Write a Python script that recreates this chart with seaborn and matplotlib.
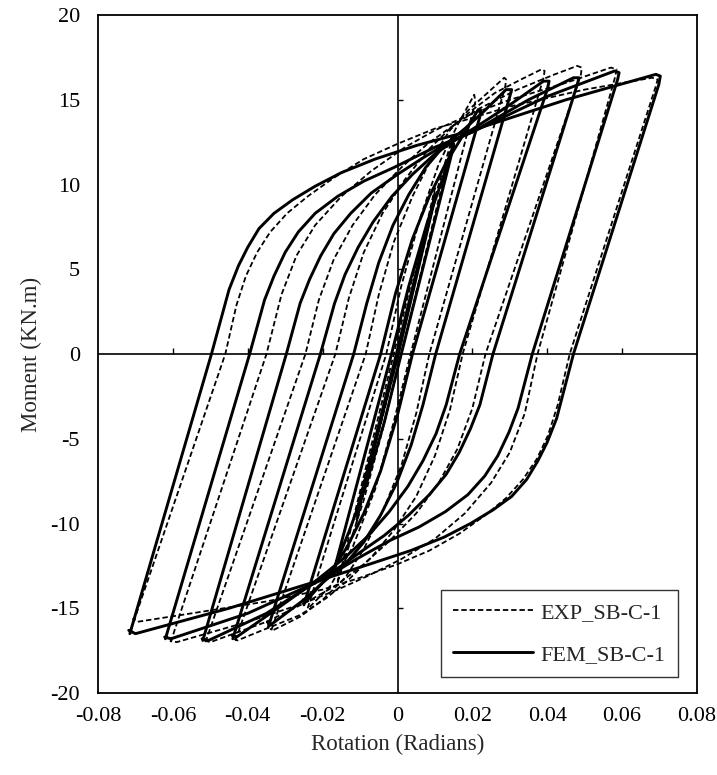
import numpy as np
import pandas as pd
import matplotlib
matplotlib.use("Agg")
import matplotlib.pyplot as plt
from matplotlib.lines import Line2D
import seaborn as sns

# ---------------- data ----------------
x_ticks = [-0.08, -0.06, -0.04, -0.02, 0, 0.02, 0.04, 0.06, 0.08]
x_tick_labels = ["-0.08", "-0.06", "-0.04", "-0.02", "0", "0.02", "0.04", "0.06", "0.08"]
y_ticks = [-20, -15, -10, -5, 0, 5, 10, 15, 20]
y_tick_labels = ["-20", "-15", "-10", "-5", "0", "5", "10", "15", "20"]

series_names = ["EXP_SB-C-1", "FEM_SB-C-1"]

# FEM (solid) hysteresis loops: rotation (rad) and moment (kN.m), one list per cycle
fem_rotation = [
    [-0.0715, -0.0497, -0.0450, -0.0425, -0.0400, -0.0370, -0.0330, -0.0280, -0.0220, -0.0150, -0.0060, 0.0050, 0.0200, 0.0450, 0.0690, 0.0702,
     0.0698, 0.0470, 0.0425, 0.0400, 0.0375, 0.0345, 0.0305, 0.0255, 0.0195, 0.0125, 0.0035, -0.0075, -0.0200, -0.0450, -0.0700, -0.0718],
    [-0.0620, -0.0395, -0.0355, -0.0330, -0.0300, -0.0265, -0.0220, -0.0160, -0.0090, -0.0010, 0.0100, 0.0200, 0.0400, 0.0580, 0.0592,
     0.0588, 0.0360, 0.0322, 0.0298, 0.0268, 0.0233, 0.0188, 0.0128, 0.0058, -0.0020, -0.0110, -0.0200, -0.0400, -0.0605, -0.0622],
    [-0.0520, -0.0297, -0.0260, -0.0235, -0.0205, -0.0170, -0.0125, -0.0070, 0.0000, 0.0070, 0.0130, 0.0200, 0.0350, 0.0470, 0.0485,
     0.0480, 0.0255, 0.0220, 0.0195, 0.0165, 0.0130, 0.0085, 0.0030, -0.0035, -0.0100, -0.0150, -0.0200, -0.0350, -0.0505, -0.0522],
    [-0.0440, -0.0206, -0.0168, -0.0140, -0.0105, -0.0065, -0.0015, 0.0040, 0.0100, 0.0160, 0.0210, 0.0300, 0.0390, 0.0405,
     0.0400, 0.0166, 0.0130, 0.0103, 0.0068, 0.0028, -0.0022, -0.0077, -0.0135, -0.0185, -0.0225, -0.0320, -0.0430, -0.0442],
    [-0.0345, -0.0117, -0.0082, -0.0050, -0.0012, 0.0030, 0.0075, 0.0125, 0.0180, 0.0230, 0.0290, 0.0305,
     0.0300, 0.0102, 0.0068, 0.0036, -0.0002, -0.0045, -0.0090, -0.0140, -0.0195, -0.0250, -0.0340, -0.0348],
    [-0.0250, -0.0045, -0.0005, 0.0040, 0.0085, 0.0130, 0.0175, 0.0215, 0.0222,
     0.0220, 0.0040, 0.0000, -0.0045, -0.0090, -0.0135, -0.0185, -0.0245, -0.0252],
    [-0.0170, -0.0016, 0.0030, 0.0080, 0.0120, 0.0150,
     0.0148, 0.0010, -0.0035, -0.0085, -0.0130, -0.0170],
    [-0.0110, -0.0003, 0.0100, 0.0098, 0.0002, -0.0110],
]
fem_moment = [
    [-16.5, 0.0, 3.8, 5.2, 6.3, 7.4, 8.3, 9.1, 9.9, 10.7, 11.5, 12.3, 13.2, 15.0, 16.5, 16.4,
     15.9, 0.0, -3.8, -5.2, -6.3, -7.4, -8.4, -9.2, -10.0, -10.8, -11.6, -12.4, -13.3, -15.0, -16.5, -16.3],
    [-16.8, 0.0, 3.2, 4.6, 6.0, 7.2, 8.3, 9.3, 10.2, 11.0, 12.2, 13.1, 15.2, 16.7, 16.6,
     16.2, 0.0, -3.2, -4.6, -6.0, -7.2, -8.3, -9.3, -10.2, -11.0, -12.1, -13.3, -15.3, -16.8, -16.7],
    [-16.9, 0.0, 3.0, 4.4, 5.8, 7.1, 8.3, 9.5, 10.6, 11.6, 12.4, 13.1, 15.0, 16.3, 16.3,
     15.9, 0.0, -3.0, -4.4, -5.8, -7.1, -8.3, -9.5, -10.7, -11.7, -12.5, -13.2, -15.3, -16.9, -16.8],
    [-16.8, 0.0, 3.0, 4.7, 6.3, 7.8, 9.3, 10.6, 11.8, 12.7, 13.4, 14.7, 16.1, 16.1,
     15.6, 0.0, -3.0, -4.7, -6.3, -7.8, -9.3, -10.7, -11.9, -12.8, -13.5, -15.0, -16.7, -16.6],
    [-16.1, 0.0, 3.0, 5.4, 7.6, 9.4, 11.0, 12.3, 13.3, 14.3, 15.6, 15.6,
     15.2, 0.0, -3.0, -5.4, -7.6, -9.5, -11.1, -12.4, -13.4, -14.5, -16.0, -15.8],
    [-14.8, 0.0, 3.6, 6.8, 9.3, 11.3, 12.9, 14.4, 14.4,
     14.0, 0.0, -3.6, -6.9, -9.4, -11.4, -13.1, -14.6, -14.5],
    [-12.8, 0.0, 4.0, 7.8, 10.3, 12.4,
     12.1, 0.0, -4.0, -7.8, -10.5, -12.7],
    [-9.5, 0.0, 9.3, 9.0, 0.0, -9.4],
]

# EXP (dashed) hysteresis loops
exp_rotation = [
    [-0.0705, -0.0460, -0.0430, -0.0405, -0.0375, -0.0340, -0.0295, -0.0240, -0.0170, -0.0090, 0.0000, 0.0100, 0.0180, 0.0300, 0.0500, 0.0680, 0.0695,
     0.0690, 0.0460, 0.0428, 0.0402, 0.0372, 0.0335, 0.0290, 0.0235, 0.0165, 0.0085, 0.0000, -0.0100, -0.0200, -0.0350, -0.0550, -0.0695, -0.0708],
    [-0.0606, -0.0350, -0.0310, -0.0270, -0.0220, -0.0150, -0.0070, 0.0020, 0.0100, 0.0180, 0.0300, 0.0450, 0.0570, 0.0585,
     0.0582, 0.0374, 0.0340, 0.0300, 0.0250, 0.0180, 0.0100, 0.0010, -0.0080, -0.0160, -0.0250, -0.0400, -0.0590, -0.0608],
    [-0.0513, -0.0246, -0.0210, -0.0170, -0.0120, -0.0060, 0.0010, 0.0080, 0.0150, 0.0220, 0.0320, 0.0420, 0.0480, 0.0492,
     0.0490, 0.0235, 0.0200, 0.0160, 0.0110, 0.0050, -0.0020, -0.0090, -0.0160, -0.0240, -0.0350, -0.0500, -0.0515],
    [-0.0433, -0.0166, -0.0130, -0.0090, -0.0040, 0.0020, 0.0080, 0.0140, 0.0200, 0.0260, 0.0330, 0.0385, 0.0393,
     0.0390, 0.0174, 0.0140, 0.0100, 0.0050, -0.0010, -0.0070, -0.0130, -0.0190, -0.0260, -0.0350, -0.0428, -0.0436],
    [-0.0337, -0.0085, -0.0050, -0.0010, 0.0040, 0.0090, 0.0140, 0.0190, 0.0240, 0.0285, 0.0290,
     0.0288, 0.0085, 0.0050, 0.0010, -0.0040, -0.0090, -0.0140, -0.0200, -0.0260, -0.0333, -0.0340],
    [-0.0240, -0.0030, 0.0010, 0.0060, 0.0110, 0.0160, 0.0205,
     0.0208, 0.0035, -0.0010, -0.0060, -0.0120, -0.0180, -0.0238],
    [-0.0160, -0.0010, 0.0040, 0.0090, 0.0150,
     0.0148, 0.0010, -0.0040, -0.0090, -0.0160],
    [-0.0110, 0.0000, 0.0100, 0.0098, 0.0003, -0.0110],
]
exp_moment = [
    [-15.8, 0.0, 2.9, 4.6, 6.0, 7.2, 8.3, 9.3, 10.4, 11.5, 12.4, 13.3, 13.8, 14.6, 15.6, 16.3, 16.2,
     15.8, 0.0, -3.0, -4.8, -6.2, -7.4, -8.5, -9.5, -10.6, -11.6, -12.4, -13.2, -13.9, -14.6, -15.3, -15.8, -15.6],
    [-17.0, 0.0, 3.5, 5.8, 7.6, 9.3, 10.8, 12.2, 13.2, 14.0, 15.0, 16.0, 16.9, 16.8,
     16.4, 0.0, -3.5, -5.8, -7.6, -9.4, -10.9, -12.1, -13.1, -13.9, -14.7, -15.8, -17.0, -16.9],
    [-17.0, 0.0, 3.2, 5.6, 7.6, 9.4, 11.0, 12.4, 13.5, 14.5, 15.6, 16.5, 17.0, 16.9,
     16.5, 0.0, -3.2, -5.6, -7.6, -9.4, -11.0, -12.4, -13.6, -14.6, -15.8, -17.0, -16.9],
    [-16.9, 0.0, 3.3, 6.0, 8.3, 10.3, 12.0, 13.3, 14.4, 15.4, 16.2, 16.8, 16.7,
     16.3, 0.0, -3.3, -6.0, -8.4, -10.4, -12.0, -13.3, -14.4, -15.4, -16.2, -16.9, -16.8],
    [-16.3, 0.0, 3.5, 6.6, 9.3, 11.5, 13.2, 14.4, 15.4, 16.3, 16.2,
     15.8, 0.0, -3.5, -6.6, -9.3, -11.5, -13.2, -14.5, -15.5, -16.3, -16.2],
    [-15.0, 0.0, 4.0, 8.0, 11.2, 13.5, 15.3,
     14.9, 0.0, -4.0, -8.0, -11.4, -13.7, -15.0],
    [-13.5, 0.0, 4.5, 8.5, 13.0,
     12.6, 0.0, -4.5, -8.6, -13.4],
    [-10.0, 0.0, 9.8, 9.4, 0.0, -9.8],
]

# ---------------- build tables ----------------
def to_frame(rot, mom):
    rows = []
    for k, (xs, ys) in enumerate(zip(rot, mom)):
        for i, (xv, yv) in enumerate(zip(xs, ys)):
            rows.append((k, i, xv, yv))
    return pd.DataFrame(rows, columns=["loop", "order", "rotation", "moment"])

df_exp = to_frame(exp_rotation, exp_moment)
df_fem = to_frame(fem_rotation, fem_moment)

# ---------------- plot ----------------
sns.set_style("white")
plt.rcParams["font.family"] = ["Liberation Serif", "DejaVu Serif"]

fig = plt.figure(figsize=(7.17, 7.75), dpi=100)
ax = fig.add_axes([0.1367, 0.1058, 0.8354, 0.8748])

dash_style = (0, (3.0, 1.6))
sns.lineplot(data=df_exp, x="rotation", y="moment", units="loop", estimator=None,
             sort=False, color="black", linewidth=1.3, linestyle=dash_style, ax=ax)
sns.lineplot(data=df_fem, x="rotation", y="moment", units="loop", estimator=None,
             sort=False, color="black", linewidth=2.1, ax=ax)

ax.set_xlim(-0.08, 0.08)
ax.set_ylim(-20, 20)
ax.set_xticks(x_ticks)
ax.set_xticklabels(x_tick_labels)
ax.set_yticks(y_ticks)
ax.set_yticklabels(y_tick_labels)
ax.tick_params(axis="both", length=0, labelsize=16, colors="black")
ax.tick_params(axis="x", pad=10)
ax.tick_params(axis="y", pad=13)

for sp in ax.spines.values():
    sp.set_color("black")
    sp.set_linewidth(1.3)

# zero axes with their small tick marks
ax.axhline(0, color="black", lw=1.2, zorder=1)
ax.axvline(0, color="black", lw=1.2, zorder=1)
ax.vlines([t for t in x_ticks[1:-1] if t != 0], 0, 0.35, color="black", lw=1.0)
ax.hlines([t for t in y_ticks[1:-1] if t != 0], 0, 0.0014, color="black", lw=1.0)

ax.set_xlabel("Rotation (Radians)", fontsize=16.5, labelpad=6)
ax.set_ylabel("Moment (KN.m)", fontsize=16.5, labelpad=6)

handles = [Line2D([], [], color="black", lw=1.3, linestyle=dash_style),
           Line2D([], [], color="black", lw=2.1)]
leg = ax.legend(handles, series_names, loc="lower right", bbox_to_anchor=(0.968, 0.0236),
                borderaxespad=0.0,
                fontsize=16, frameon=True, fancybox=False, edgecolor="black",
                handlelength=3.6, handletextpad=0.35, labelspacing=0.95, borderpad=0.55)
leg.get_frame().set_linewidth(1.0)

fig.savefig("out.png", dpi=100, facecolor="white")
